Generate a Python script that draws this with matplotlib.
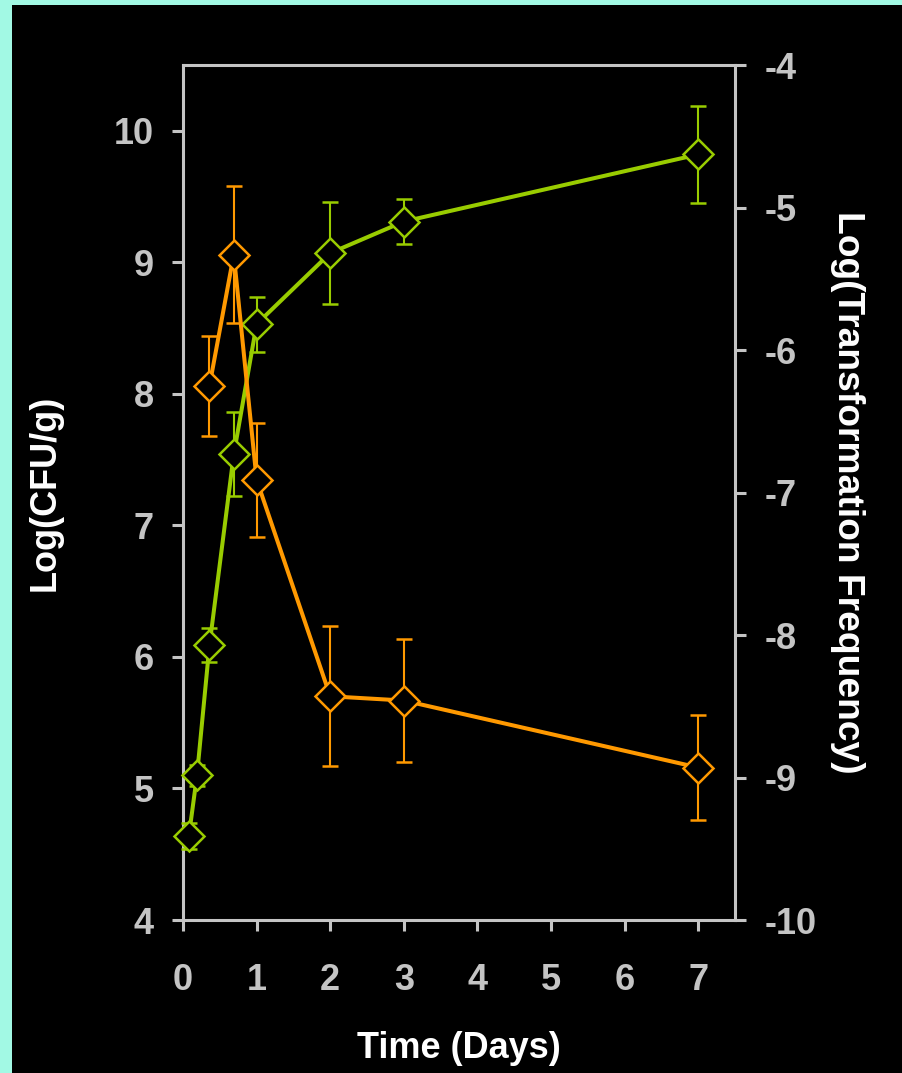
"""Growth (Log CFU/g) and transformation frequency over time, dark dual-axis chart."""

import matplotlib
matplotlib.use("Agg")
import matplotlib.pyplot as plt
from matplotlib.patches import Rectangle

# Log(CFU/g) on the left axis
cfu_days = [0.08, 0.19, 0.36, 0.69, 1.0, 2.0, 3.0, 7.0]
cfu_vals = [4.64, 5.10, 6.09, 7.54, 8.53, 9.07, 9.31, 9.82]
cfu_err = [0.10, 0.08, 0.13, 0.32, 0.21, 0.39, 0.17, 0.37]

# Log(Transformation Frequency) on the right axis
tf_days = [0.36, 0.69, 1.0, 2.0, 3.0, 7.0]
tf_vals = [-6.25, -5.33, -6.91, -8.43, -8.46, -8.93]
tf_err = [0.35, 0.48, 0.40, 0.49, 0.43, 0.37]

x_ticks = [0, 1, 2, 3, 4, 5, 6, 7]
left_ticks = [4, 5, 6, 7, 8, 9, 10]
right_ticks = [-10, -9, -8, -7, -6, -5, -4]

GREEN = "#99cc00"
ORANGE = "#ff9900"
AXIS = "#c4c4c4"
BORDER = "#a2f9e4"
FS = 26

plt.rcParams["font.family"] = ["Liberation Sans", "DejaVu Sans"]
plt.rcParams["font.weight"] = "bold"
plt.rcParams["axes.unicode_minus"] = False

W, H = 902, 1073
fig = plt.figure(figsize=(W / 100, H / 100), dpi=100, facecolor=BORDER)
# black panel, leaving a thin aquamarine strip on the left and top
fig.patches.append(Rectangle((12 / W, 0), 1 - 12 / W, 1 - 5 / H,
                             transform=fig.transFigure, facecolor="black",
                             edgecolor="none", zorder=-10))

ax1 = fig.add_axes([183 / W, 153 / H, (735 - 183) / W, (920 - 65) / H])
ax1.set_facecolor("black")
ax2 = ax1.twinx()

marker_kw = dict(marker="D", markersize=15, markerfacecolor="black",
                 markeredgewidth=1.8, linewidth=2.9,
                 elinewidth=1.5, capsize=6, capthick=1.5, zorder=3)

ax1.set_xlim(0, 7.5)
ax1.set_ylim(4, 10.5)
ax2.set_ylim(-10, -4)

eb1 = ax1.errorbar(cfu_days, cfu_vals, yerr=cfu_err, color=GREEN,
                   markeredgecolor=GREEN, ecolor=GREEN, **marker_kw)
eb2 = ax2.errorbar(tf_days, tf_vals, yerr=tf_err, color=ORANGE,
                   markeredgecolor=ORANGE, ecolor=ORANGE, **marker_kw)
# the first point sits on the left spine, so let the marks spill over it
for eb in (eb1, eb2):
    for art in eb.get_children():
        art.set_clip_on(False)

ax1.set_xticks(x_ticks)
ax1.set_yticks(left_ticks)
ax2.set_yticks(right_ticks)

for ax in (ax1, ax2):
    for sp in ax.spines.values():
        sp.set_color(AXIS)
        sp.set_linewidth(2.2)
    ax.tick_params(colors=AXIS, width=2.2, length=8, labelsize=FS)
# the twin only needs its right spine
for side in ("left", "top", "bottom"):
    ax2.spines[side].set_visible(False)
ax1.spines["right"].set_visible(False)

ax1.tick_params(axis="y", pad=13)
ax1.tick_params(axis="x", pad=23)
ax2.tick_params(axis="y", pad=13)
for lab in ax1.get_xticklabels() + ax1.get_yticklabels() + ax2.get_yticklabels():
    lab.set_fontweight("bold")

ax1.set_xlabel("Time (Days)", color="white", fontsize=FS, fontweight="bold",
               labelpad=24)
ax1.set_ylabel("Log(CFU/g)", color="white", fontsize=FS, fontweight="bold",
               labelpad=37)
ax2.set_ylabel("Log(Transformation Frequency)", color="white", fontsize=26.8,
               fontweight="bold", rotation=270, labelpad=10, va="bottom")

fig.savefig("out.png", dpi=100, facecolor=fig.get_facecolor())
